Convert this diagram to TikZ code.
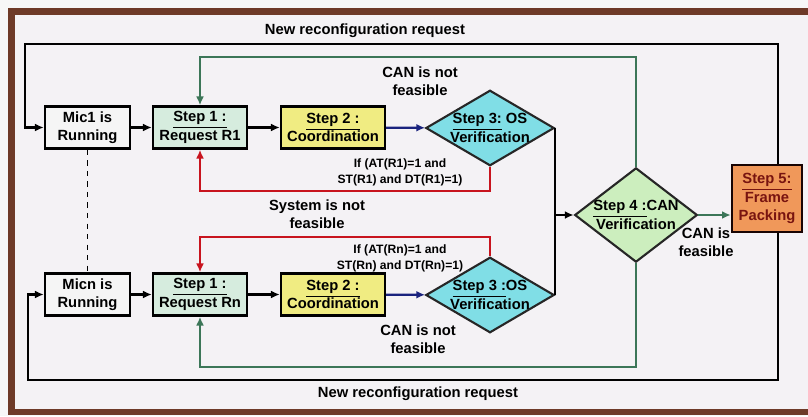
\documentclass[tikz,border=0pt]{standalone}
\usepackage{fontspec}
\setmainfont{Liberation Sans}
\usepackage{xcolor}
\usepackage{tikz}
\usetikzlibrary{shapes.geometric, arrows.meta, positioning, calc}
\definecolor{FrameBrown}{RGB}{110,58,40}
\definecolor{PageGray}{RGB}{244,242,245}
\definecolor{StepOne}{RGB}{214,236,222}
\definecolor{StepTwo}{RGB}{240,236,130}
\definecolor{StepThree}{RGB}{128,222,230}
\definecolor{StepFour}{RGB}{204,238,190}
\definecolor{StepFive}{RGB}{240,152,90}
\definecolor{FiveText}{RGB}{120,20,16}
\definecolor{CanGreen}{RGB}{60,118,88}
\definecolor{LoopRed}{RGB}{200,20,30}
\definecolor{NavyArrow}{RGB}{26,35,126}

\begin{document}
\begin{tikzpicture}[
  x=0.02cm, y=-0.02cm,
  font=\bfseries\fontsize{8.4}{10.4}\selectfont,
  box/.style={rectangle, draw=black, line width=1.4pt, fill=white!96!black,
              minimum width=1.7cm, minimum height=0.84cm, align=center, inner sep=1pt},
  stepbox/.style={box, minimum width=1.88cm},
  diam/.style={diamond, draw=black!85, line width=1.2pt, align=center,
               inner sep=0pt},
  lbl/.style={align=center, inner sep=0pt},
  cond/.style={lbl, font=\bfseries\fontsize{6.9}{9.2}\selectfont},
  arrow/.style={-{Latex[length=5pt,width=4.5pt]}, black, line width=1.3pt},
  garrow/.style={arrow, CanGreen},
  rarrow/.style={arrow, LoopRed},
  barrow/.style={arrow, NavyArrow}
]
\clip (0,0) rectangle (808,416);
\fill[white!97!black] (0,0) rectangle (808,416);
\draw[FrameBrown, line width=0.13cm, fill=PageGray] (11.5,11.5) rectangle (850,412);

% Request 1 row
\node[box] (mic1) at (87.5,127.5) {Mic1 is\\Running};
\node[stepbox, fill=StepOne] (req1) at (200,127.5) {\underline{Step 1 :}\\Request R1};
\node[box, fill=StepTwo, minimum width=2.08cm] (coord1) at (333,127.5) {\underline{Step 2 :}\\Coordination};
\node[diam, fill=StepThree, minimum width=2.48cm, minimum height=1.46cm, aspect=1.7]
  (os1) at (490,128) {\underline{Step 3:} OS\\Verification};

% Request n row
\node[box] (micn) at (87.5,294.5) {Micn is\\Running};
\node[stepbox, fill=StepOne] (reqn) at (200,294.5) {\underline{Step 1 :}\\Request Rn};
\node[box, fill=StepTwo, minimum width=2.08cm] (coordn) at (333,294.5) {\underline{Step 2 :}\\Coordination};
\node[diam, fill=StepThree, minimum width=2.48cm, minimum height=1.46cm, aspect=1.7]
  (osn) at (490,295) {\underline{Step 3 :}OS\\Verification};

% CAN check and packing
\node[diam, fill=StepFour, minimum width=2.24cm, minimum height=1.72cm, aspect=1.3]
  (can) at (636,215) {\underline{Step 4 :}CAN\\Verification};
\node[box, fill=StepFive, draw=black!80!FiveText, text=FiveText,
      minimum width=1.4cm, minimum height=1.34cm] (pack) at (767,198.5)
  {\underline{Step 5:}\\Frame\\Packing};

% Labels
\node[lbl] (newtop)  at (365,31)  {New reconfiguration request};
\node[lbl] (newbot)  at (418,394) {New reconfiguration request};
\node[lbl] (cannot1) at (420,81)  {CAN is not\\feasible};
\node[lbl] (cannotn) at (418,339) {CAN is not\\feasible};
\node[lbl] (sysnot)  at (317,214) {System is not\\feasible};
\node[lbl] (canok)   at (706,242) {CAN is\\feasible};
\node[cond] (cond1)  at (400,172) {If (AT(R1)=1 and\\ST(R1) and DT(R1)=1)};
\node[cond] (condn)  at (400,258) {If (AT(Rn)=1 and\\ST(Rn) and DT(Rn)=1)};

% Helper corners
\coordinate (tl) at (25,44);
\coordinate (tr) at (778,44);
\coordinate (bl) at (28,380);
\coordinate (br) at (778,380);
\coordinate (gt) at (200,57);
\coordinate (gb) at (200,367);
\coordinate (rt) at (200,191);
\coordinate (rb) at (200,237);

% Arrows
\draw[arrow, line width=2pt] (mic1) -- (req1);
\draw[arrow] (req1) -- (coord1);
\draw[barrow] (coord1) -- (os1);
\draw[arrow, line width=2pt] (micn) -- (reqn);
\draw[arrow] (reqn) -- (coordn);
\draw[barrow] (coordn) -- (osn);
\draw[black, line width=1.3pt] (os1.east) -- (osn.east);
\draw[arrow] (os1.east |- can.west) -- (can.west);
\draw[garrow] (can.east) -- (can.east -| pack.west);
\draw[garrow] (can.north) |- (gt) -- (req1.north);
\draw[garrow] (can.south) |- (gb) -- (reqn.south);
\draw[rarrow] (os1.south) |- (rt) -- (req1.south);
\draw[rarrow] (osn.north) |- (rb) -- (reqn.north);
\draw[arrow] (pack.north -| tr) -- (tr) -- (tl) |- (mic1.west);
\draw[arrow] (pack.south -| br) -- (br) -- (bl) |- (micn.west);
\draw[dashed, line width=0.8pt] (mic1.south) -- (micn.north);

\end{tikzpicture}
\end{document}
